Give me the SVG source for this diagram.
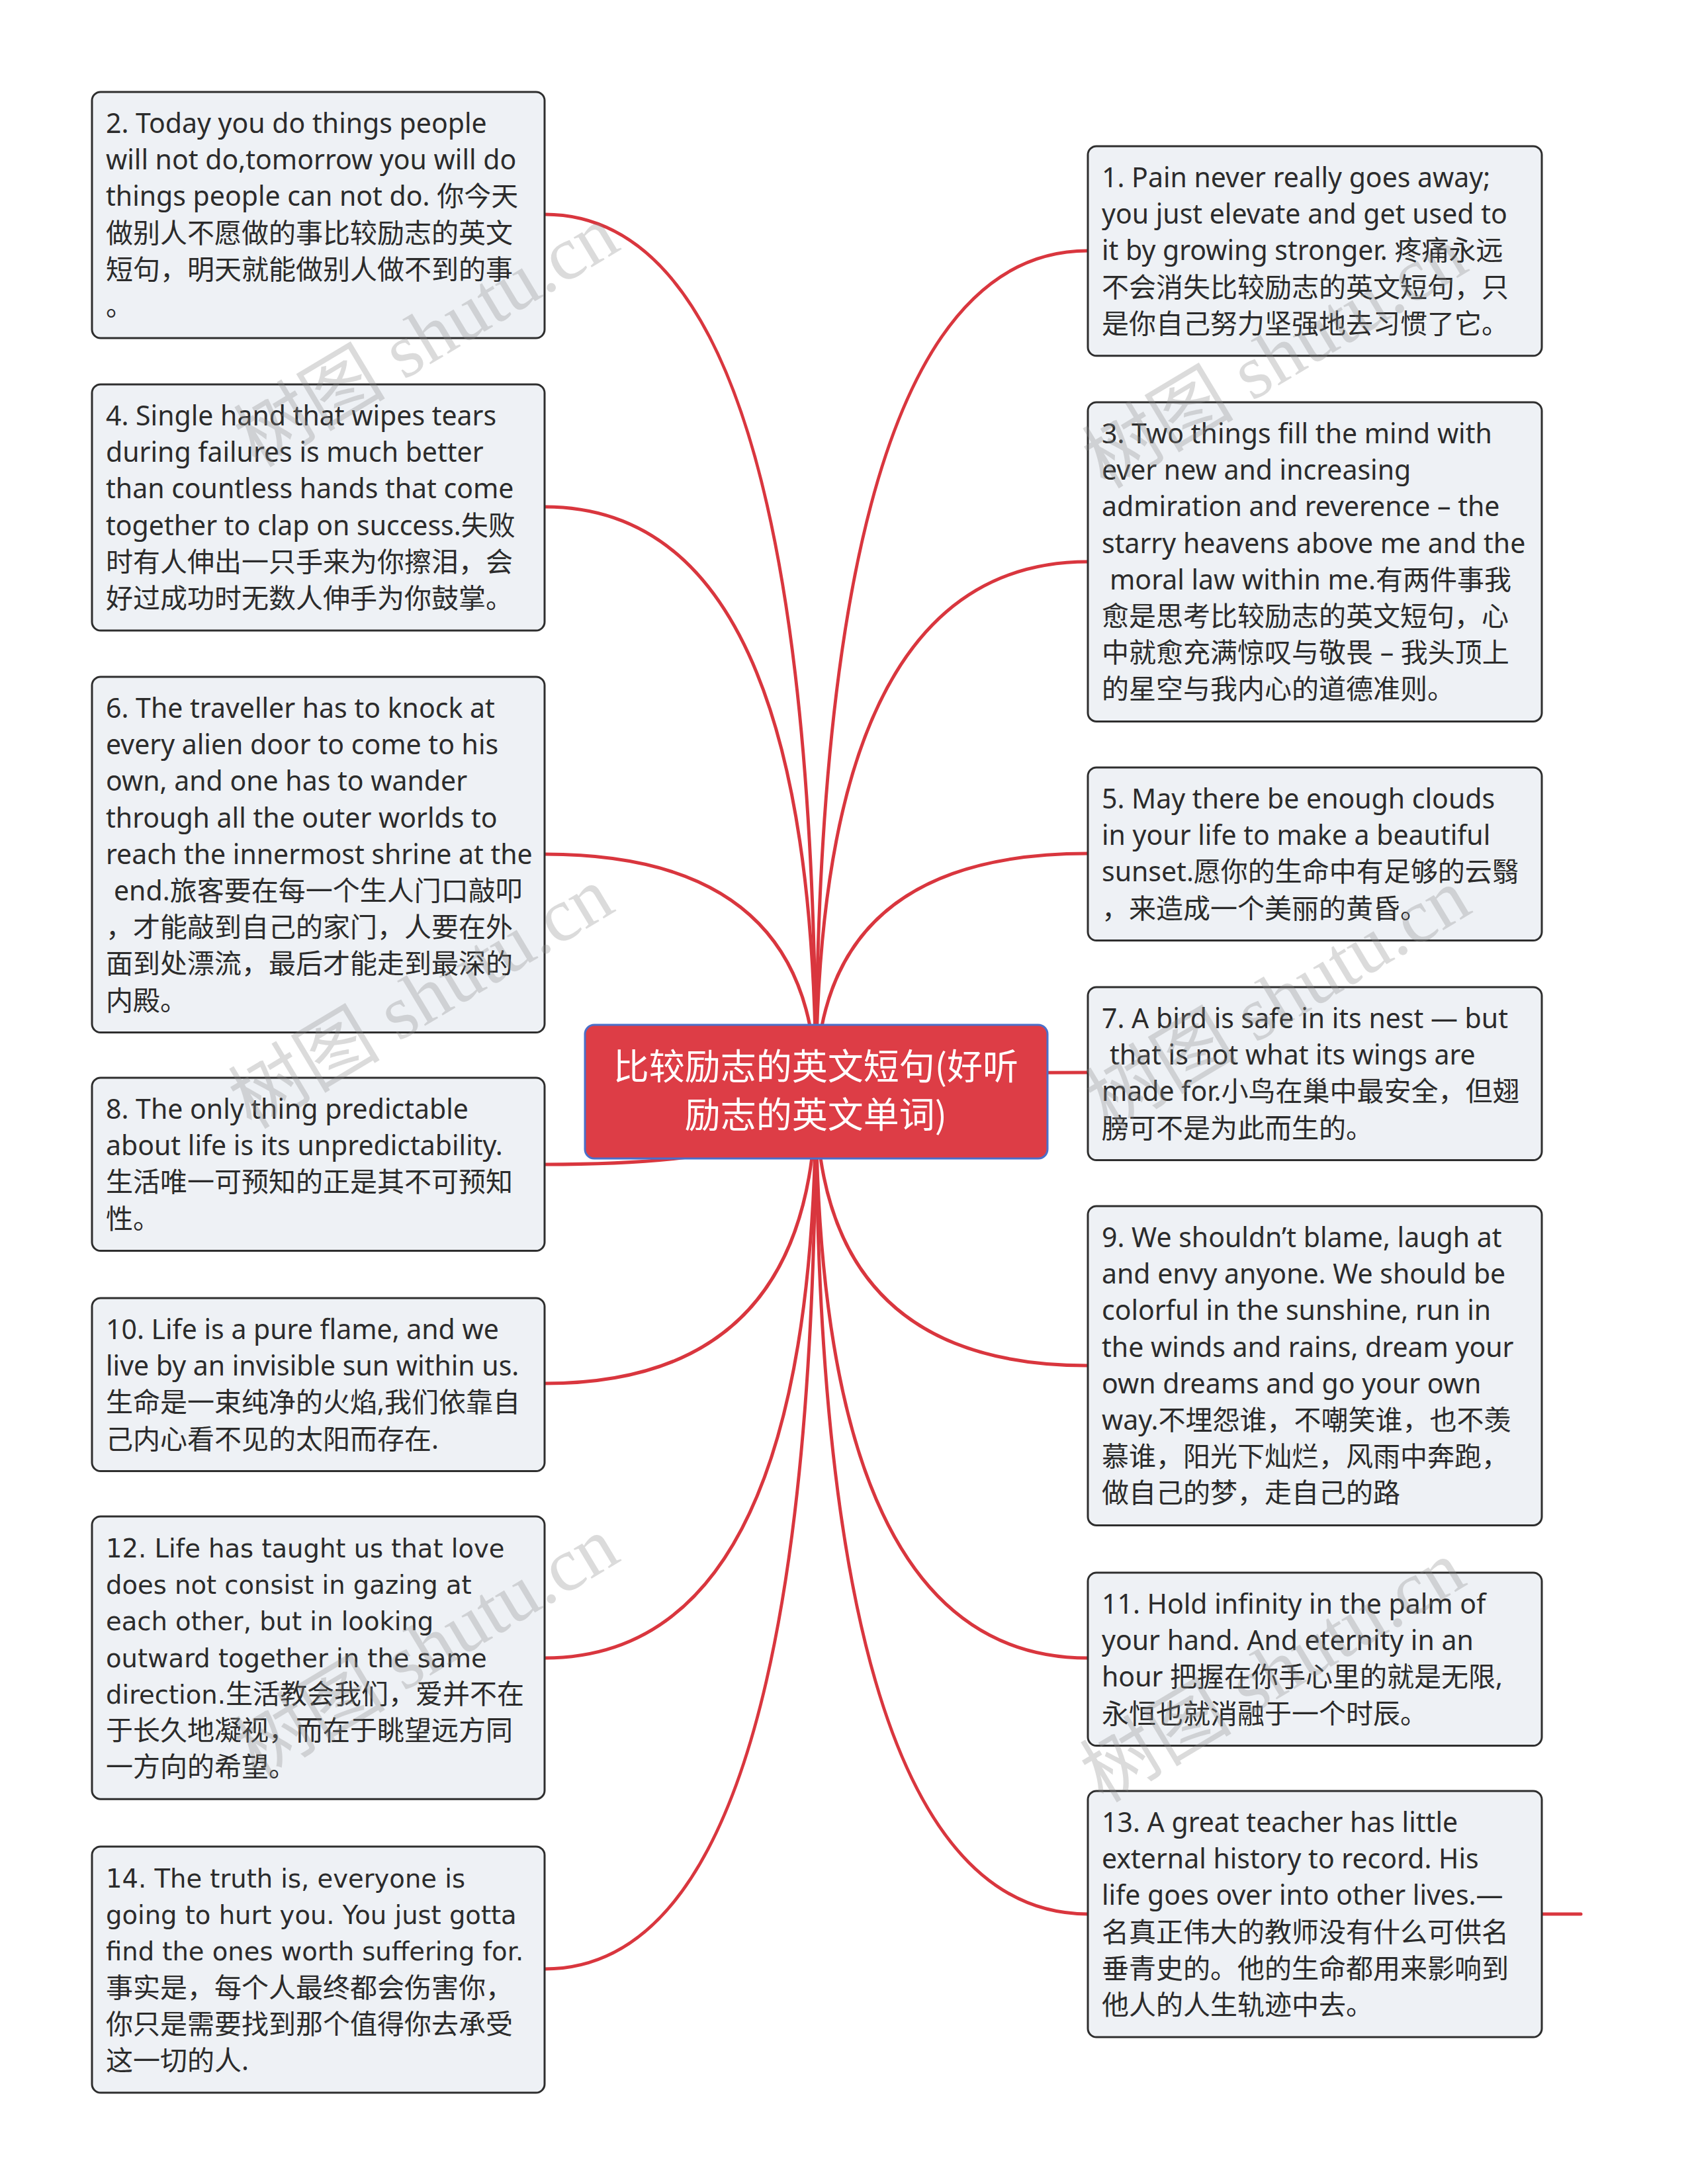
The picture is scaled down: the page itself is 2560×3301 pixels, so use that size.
<svg xmlns="http://www.w3.org/2000/svg" width="2560" height="3301" viewBox="0 0 2560 3301">
<style>
.bg{fill:#ffffff}
.node{fill:#eef1f5;stroke:#2e2e2e;stroke-width:3}
.root{fill:#dd3d46;stroke:#4b6fc9;stroke-width:3}
.t{font-family:"Noto Sans","Noto Sans CJK SC",sans-serif;font-size:41px;fill:#2b2b2b}
.d{font-family:"DejaVu Sans","Noto Sans CJK SC",sans-serif;font-size:38.5px}
.rt{font-family:"Noto Sans CJK SC","Noto Sans",sans-serif;font-size:54px;fill:#ffffff;text-anchor:middle}
.c{fill:none;stroke:#d9363e;stroke-width:5;stroke-linecap:round}
.wm{font-family:"Liberation Serif","Noto Sans CJK SC",serif;font-size:115px;fill:#8a8a8a;opacity:0.3}
</style>
<rect class="bg" x="0" y="0" width="2560" height="3301"/>
<g id="connectors">
<path class="c" d="M1233 1649 Q1233 324 823 324"/>
<path class="c" d="M1233 1649 Q1233 766 823 766"/>
<path class="c" d="M1233 1649 Q1233 1291 823 1291"/>
<path class="c" d="M1233 1649 Q1233 1760 823 1760"/>
<path class="c" d="M1233 1649 Q1233 2091 823 2091"/>
<path class="c" d="M1233 1649 Q1233 2506 823 2506"/>
<path class="c" d="M1233 1649 Q1233 2976 823 2976"/>
<path class="c" d="M1233 1649 Q1233 379 1644 379"/>
<path class="c" d="M1233 1649 Q1233 849 1644 849"/>
<path class="c" d="M1233 1649 Q1233 1290 1644 1290"/>
<path class="c" d="M1233 1649 Q1233 1621 1644 1621"/>
<path class="c" d="M1233 1649 Q1233 2064 1644 2064"/>
<path class="c" d="M1233 1649 Q1233 2506 1644 2506"/>
<path class="c" d="M1233 1649 Q1233 2893 1644 2893"/>
<path class="c" d="M2330 2893 H2389"/>
</g>
<g id="root">
<rect class="root" x="884" y="1549" width="699" height="202" rx="14"/>
<text class="rt"><tspan x="1233" y="1632">比较励志的英文短句(好听</tspan><tspan x="1233" y="1705">励志的英文单词)</tspan></text>
</g>
<g id="node2">
<rect class="node" x="139" y="139" width="684" height="372" rx="13"/>
<text class="t"><tspan x="160" y="201">2. Today you do things people</tspan><tspan x="160" dy="55.2">will not do,tomorrow you will do</tspan><tspan x="160" dy="55.2">things people can not do. 你今天</tspan><tspan x="160" dy="55.2">做别人不愿做的事比较励志的英文</tspan><tspan x="160" dy="55.2">短句，明天就能做别人做不到的事</tspan><tspan x="160" dy="55.2">。</tspan></text>
</g>
<g id="node4">
<rect class="node" x="139" y="581" width="684" height="372" rx="13"/>
<text class="t"><tspan x="160" y="643">4. Single hand that wipes tears</tspan><tspan x="160" dy="55.2">during failures is much better</tspan><tspan x="160" dy="55.2">than countless hands that come</tspan><tspan x="160" dy="55.2">together to clap on success.失败</tspan><tspan x="160" dy="55.2">时有人伸出一只手来为你擦泪，会</tspan><tspan x="160" dy="55.2">好过成功时无数人伸手为你鼓掌。</tspan></text>
</g>
<g id="node6">
<rect class="node" x="139" y="1023" width="684" height="537.6" rx="13"/>
<text class="t"><tspan x="160" y="1085">6. The traveller has to knock at</tspan><tspan x="160" dy="55.2">every alien door to come to his</tspan><tspan x="160" dy="55.2">own, and one has to wander</tspan><tspan x="160" dy="55.2">through all the outer worlds to</tspan><tspan x="160" dy="55.2">reach the innermost shrine at the</tspan><tspan x="172" dy="55.2">end.旅客要在每一个生人门口敲叩</tspan><tspan x="160" dy="55.2">，才能敲到自己的家门，人要在外</tspan><tspan x="160" dy="55.2">面到处漂流，最后才能走到最深的</tspan><tspan x="160" dy="55.2">内殿。</tspan></text>
</g>
<g id="node8">
<rect class="node" x="139" y="1629" width="684" height="261.6" rx="13"/>
<text class="t"><tspan x="160" y="1691">8. The only thing predictable</tspan><tspan x="160" dy="55.2">about life is its unpredictability.</tspan><tspan x="160" dy="55.2">生活唯一可预知的正是其不可预知</tspan><tspan x="160" dy="55.2">性。</tspan></text>
</g>
<g id="node10">
<rect class="node" x="139" y="1962" width="684" height="261.6" rx="13"/>
<text class="t"><tspan x="160" y="2024">10. Life is a pure flame, and we</tspan><tspan x="160" dy="55.2">live by an invisible sun within us.</tspan><tspan x="160" dy="55.2">生命是一束纯净的火焰,我们依靠自</tspan><tspan x="160" dy="55.2">己内心看不见的太阳而存在.</tspan></text>
</g>
<g id="node12">
<rect class="node" x="139" y="2292" width="684" height="427.2" rx="13"/>
<text class="t"><tspan x="160" y="2354" class="d">12. Life has taught us that love</tspan><tspan x="160" dy="55.2" class="d">does not consist in gazing at</tspan><tspan x="160" dy="55.2" class="d">each other, but in looking</tspan><tspan x="160" dy="55.2" class="d">outward together in the same</tspan><tspan x="160" dy="55.2" class="d">direction.</tspan><tspan>生活教会我们，爱并不在</tspan><tspan x="160" dy="55.2">于长久地凝视，而在于眺望远方同</tspan><tspan x="160" dy="55.2">一方向的希望。</tspan></text>
</g>
<g id="node14">
<rect class="node" x="139" y="2791" width="684" height="372" rx="13"/>
<text class="t"><tspan x="160" y="2853" class="d">14. The truth is, everyone is</tspan><tspan x="160" dy="55.2" class="d">going to hurt you. You just gotta</tspan><tspan x="160" dy="55.2" class="d">find the ones worth suffering for.</tspan><tspan x="160" dy="55.2">事实是，每个人最终都会伤害你，</tspan><tspan x="160" dy="55.2">你只是需要找到那个值得你去承受</tspan><tspan x="160" dy="55.2">这一切的人.</tspan></text>
</g>
<g id="node1">
<rect class="node" x="1644" y="221" width="686" height="316.8" rx="13"/>
<text class="t"><tspan x="1665" y="283">1. Pain never really goes away;</tspan><tspan x="1665" dy="55.2">you just elevate and get used to</tspan><tspan x="1665" dy="55.2">it by growing stronger. 疼痛永远</tspan><tspan x="1665" dy="55.2">不会消失比较励志的英文短句，只</tspan><tspan x="1665" dy="55.2">是你自己努力坚强地去习惯了它。</tspan></text>
</g>
<g id="node3">
<rect class="node" x="1644" y="608" width="686" height="482.4" rx="13"/>
<text class="t"><tspan x="1665" y="670">3. Two things fill the mind with</tspan><tspan x="1665" dy="55.2">ever new and increasing</tspan><tspan x="1665" dy="55.2">admiration and reverence – the</tspan><tspan x="1665" dy="55.2">starry heavens above me and the</tspan><tspan x="1677" dy="55.2">moral law within me.有两件事我</tspan><tspan x="1665" dy="55.2">愈是思考比较励志的英文短句，心</tspan><tspan x="1665" dy="55.2">中就愈充满惊叹与敬畏 – 我头顶上</tspan><tspan x="1665" dy="55.2">的星空与我内心的道德准则。</tspan></text>
</g>
<g id="node5">
<rect class="node" x="1644" y="1160" width="686" height="261.6" rx="13"/>
<text class="t"><tspan x="1665" y="1222">5. May there be enough clouds</tspan><tspan x="1665" dy="55.2">in your life to make a beautiful</tspan><tspan x="1665" dy="55.2">sunset.愿你的生命中有足够的云翳</tspan><tspan x="1665" dy="55.2">，来造成一个美丽的黄昏。</tspan></text>
</g>
<g id="node7">
<rect class="node" x="1644" y="1492" width="686" height="261.6" rx="13"/>
<text class="t"><tspan x="1665" y="1554">7. A bird is safe in its nest — but</tspan><tspan x="1677" dy="55.2">that is not what its wings are</tspan><tspan x="1665" dy="55.2">made for.小鸟在巢中最安全，但翅</tspan><tspan x="1665" dy="55.2">膀可不是为此而生的。</tspan></text>
</g>
<g id="node9">
<rect class="node" x="1644" y="1823" width="686" height="482.4" rx="13"/>
<text class="t"><tspan x="1665" y="1885">9. We shouldn’t blame, laugh at</tspan><tspan x="1665" dy="55.2">and envy anyone. We should be</tspan><tspan x="1665" dy="55.2">colorful in the sunshine, run in</tspan><tspan x="1665" dy="55.2">the winds and rains, dream your</tspan><tspan x="1665" dy="55.2">own dreams and go your own</tspan><tspan x="1665" dy="55.2">way.不埋怨谁，不嘲笑谁，也不羡</tspan><tspan x="1665" dy="55.2">慕谁，阳光下灿烂，风雨中奔跑，</tspan><tspan x="1665" dy="55.2">做自己的梦，走自己的路</tspan></text>
</g>
<g id="node11">
<rect class="node" x="1644" y="2377" width="686" height="261.6" rx="13"/>
<text class="t"><tspan x="1665" y="2439">11. Hold infinity in the palm of</tspan><tspan x="1665" dy="55.2">your hand. And eternity in an</tspan><tspan x="1665" dy="55.2">hour 把握在你手心里的就是无限,</tspan><tspan x="1665" dy="55.2">永恒也就消融于一个时辰。</tspan></text>
</g>
<g id="node13">
<rect class="node" x="1644" y="2707" width="686" height="372" rx="13"/>
<text class="t"><tspan x="1665" y="2769">13. A great teacher has little</tspan><tspan x="1665" dy="55.2">external history to record. His</tspan><tspan x="1665" dy="55.2">life goes over into other lives.—</tspan><tspan x="1665" dy="55.2">名真正伟大的教师没有什么可供名</tspan><tspan x="1665" dy="55.2">垂青史的。他的生命都用来影响到</tspan><tspan x="1665" dy="55.2">他人的人生轨迹中去。</tspan></text>
</g>
<g id="watermarks">
<text class="wm" transform="translate(388 708) rotate(-31)">树图 shutu.cn</text>
<text class="wm" transform="translate(1670 740) rotate(-31)">树图 shutu.cn</text>
<text class="wm" transform="translate(380 1708) rotate(-31)">树图 shutu.cn</text>
<text class="wm" transform="translate(1675 1710) rotate(-31)">树图 shutu.cn</text>
<text class="wm" transform="translate(388 2690) rotate(-31)">树图 shutu.cn</text>
<text class="wm" transform="translate(1667 2726) rotate(-31)">树图 shutu.cn</text>
</g>
</svg>
